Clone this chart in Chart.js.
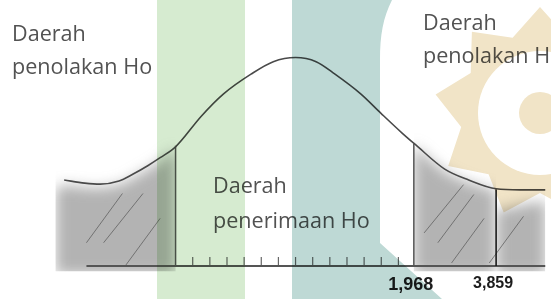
<!DOCTYPE html>
<html>
<head>
<meta charset="utf-8">
<script src="https://cdn.jsdelivr.net/npm/chart.js@4.4.1/dist/chart.umd.min.js"></script>
<style>
  html, body { margin: 0; padding: 0; background: #fff; overflow: hidden; }
  #wrap { position: relative; width: 551px; height: 299px; overflow: hidden; }
  #box { position: absolute; left: 0; top: 0; width: 551px; height: 299px; }
  .note { position: absolute; font-family: 'Open Sans', sans-serif; font-size: 21.6px; color: #525252; white-space: nowrap; }
  #mark { position: absolute; left: 0; top: 0; mix-blend-mode: multiply; pointer-events: none; }
</style>
</head>
<body>
<div id="wrap">
  <div id="box"><canvas id="kurva"></canvas></div>
  <div class="note" style="left:12px; top:16px; line-height:33px;">Daerah<br>penolakan Ho</div>
  <div class="note" style="left:423px; top:5px; line-height:33px;">Daerah<br>penolakan Ho</div>
  <div class="note" style="left:213px; top:167px; line-height:35px;">Daerah<br>penerimaan Ho</div>
  <svg id="mark" width="551" height="299">
    <rect x="157" y="0" width="88" height="299" fill="#d6ebd0"/>
    <path d="M292 0 H392 C383 18 380 35 380 60 V243 L442 299 H292 Z" fill="#bed9d5"/>
    <polygon id="star" fill="#f1e4c7"/>
    <circle cx="540" cy="113" r="62" fill="#fff"/>
    <circle cx="540" cy="113" r="21" fill="#f1e4c7"/>
  </svg>
</div>
<script>
// satuan x = jarak antar garis skala, satuan y = kerapatan
const curveX = [-13.5, -12.3, -11.4, -10.3, -9.5, -8.6, -7.9, -7.0, -5.5, -4.2, -2.6, -1.3, 0, 1.2, 2.3, 3.8, 5.0, 6.2, 7.0, 8.7, 10.1, 11.7, 13.1, 14.6];
const curveY = [0.166, 0.160, 0.158, 0.164, 0.177, 0.194, 0.209, 0.230, 0.289, 0.332, 0.370, 0.394, 0.402, 0.394, 0.370, 0.332, 0.294, 0.257, 0.234, 0.187, 0.166, 0.149, 0.147, 0.147];

// garis batas daerah kritis
const critX = [-7.0, 6.9];
const critTop = [0.232, 0.236];
const tailX = 11.7;
const tailTop = 0.148;

// label di sumbu
const labelX = [6.9, 11.7];
const labelText = ['1,968', '3,859'];

// garis skala kecil
const tickX = [-6, -5, -4, -3, -2, -1, 0, 1, 2, 3, 4, 5, 6];
const baseX = [-12.2, 14.6];

// daerah arsiran
const shadeLeftX = [-14.0, -13.5, -12.3, -11.4, -10.3, -9.5, -8.6, -7.9, -7.0];
const shadeLeftY = [0.148, 0.156, 0.152, 0.151, 0.157, 0.170, 0.187, 0.202, 0.226];
const shadeRightX = [6.9, 7.0, 8.7, 10.1, 11.7];
const shadeRightY = [0.236, 0.230, 0.183, 0.161, 0.145];
const shadeTailX = [11.7, 12.5, 13.5, 14.6];
const shadeTailY = [0.108, 0.112, 0.120, 0.125];
const shadeFloor = -0.016;

const hatchX = [-12.2, -10.1, null, -11.2, -8.9, null, -9.9, -7.9, null, 7.5, 9.8, null, 8.3, 10.4, null, 9.1, 11.0, null, 11.3, 13.3];
const hatchY = [0.045, 0.140, null, 0.045, 0.140, null, 0.002, 0.092, null, 0.064, 0.157, null, 0.045, 0.138, null, 0.006, 0.092, null, 0.006, 0.096];

const pts = (xs, ys) => xs.map((x, i) => ({ x: x, y: ys[i] }));

// bintang samar di latar
const star = [];
for (let i = 0; i < 18; i++) {
    const a = (-90 + i * 20) * Math.PI / 180;
    const r = i % 2 === 0 ? 106 : 80;
    star.push((540 + r * Math.cos(a)).toFixed(1) + ',' + (113 + r * Math.sin(a)).toFixed(1));
}
document.getElementById('star').setAttribute('points', star.join(' '));

// blur untuk arsiran abu-abu
const blurShade = {
    id: 'blurShade',
    beforeDraw(chart) { chart.ctx.filter = 'blur(7px)'; },
    beforeDatasetsDraw(chart) { chart.ctx.filter = 'none'; }
};

const vLines = [];
critX.forEach((x, i) => { vLines.push({ x: x, y: 0 }, { x: x, y: critTop[i] }, { x: null, y: null }); });

const shade = (xs, ys) => ({
    data: pts(xs, ys),
    fill: { value: shadeFloor },
    backgroundColor: 'rgba(110,110,110,0.52)',
    borderWidth: 0,
    borderColor: 'rgba(0,0,0,0)',
    pointRadius: 0,
    tension: 0.3
});

new Chart(document.getElementById('kurva'), {
    type: 'line',
    data: {
        datasets: [
            {
                data: pts(curveX, curveY),
                borderColor: '#4a4a4a',
                borderWidth: 1.6,
                pointRadius: 0,
                cubicInterpolationMode: 'monotone'
            },
            {
                data: vLines,
                borderColor: '#555',
                borderWidth: 1.5,
                pointRadius: 0
            },
            {
                data: [{ x: tailX, y: 0 }, { x: tailX, y: tailTop }],
                borderColor: '#1a1a1a',
                borderWidth: 1.6,
                pointRadius: 0
            },
            {
                data: pts(baseX, [0, 0]),
                borderColor: '#555',
                borderWidth: 2,
                pointRadius: 0
            },
            {
                data: tickX.map(x => ({ x: x, y: 0.009 })),
                showLine: false,
                pointStyle: 'line',
                rotation: 90,
                pointRadius: 4.5,
                pointBorderColor: '#666',
                pointBorderWidth: 1.2
            },
            {
                data: pts(hatchX, hatchY),
                borderColor: 'rgba(85,85,85,0.7)',
                borderWidth: 1,
                pointRadius: 0
            },
            shade(shadeLeftX, shadeLeftY),
            shade(shadeRightX, shadeRightY),
            shade(shadeTailX, shadeTailY)
        ]
    },
    options: {
        responsive: true,
        maintainAspectRatio: false,
        animation: false,
        layout: { padding: 0 },
        scales: {
            x: {
                type: 'linear',
                min: -16.91,
                max: 14.57,
                grid: { display: false, drawTicks: false },
                border: { display: false },
                afterBuildTicks: scale => { scale.ticks = labelX.map(v => ({ value: v })); },
                ticks: {
                    z: 1,
                    padding: 3,
                    labelOffset: -3,
                    autoSkip: false,
                    maxRotation: 0,
                    color: '#1c1c1c',
                    callback: (value, index) => labelText[index],
                    font: ctx => ({ family: 'Liberation Sans', weight: 'bold', size: ctx.index === 0 ? 18 : 16 })
                }
            },
            y: {
                type: 'linear',
                display: false,
                min: -0.0102,
                max: 0.502
            }
        },
        plugins: {
            legend: { display: false },
            tooltip: { enabled: false },
            filler: { drawTime: 'beforeDatasetsDraw' }
        }
    },
    plugins: [blurShade]
});
</script>
</body>
</html>
